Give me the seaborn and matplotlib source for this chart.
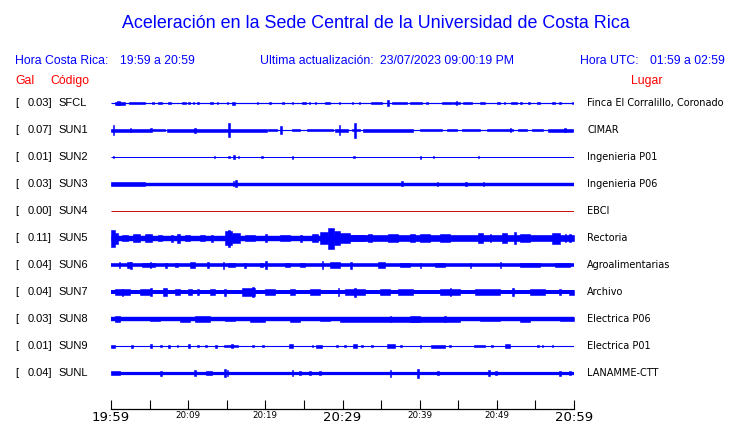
import matplotlib
matplotlib.use("Agg")
import matplotlib.pyplot as plt
import seaborn as sns

sns.set_style("white")
plt.rcParams['font.family'] = ['Liberation Sans', 'DejaVu Sans']

# ---------------- data ----------------
title = "Aceleración en la Sede Central de la Universidad de Costa Rica"
codes = ["SFCL", "SUN1", "SUN2", "SUN3", "SUN4", "SUN5", "SUN6", "SUN7", "SUN8", "SUN9", "SUNL"]
gal_values = ["0.03", "0.07", "0.01", "0.03", "0.00", "0.11", "0.04", "0.04", "0.03", "0.01", "0.04"]
places = ["Finca El Corralillo, Coronado", "CIMAR", "Ingenieria P01", "Ingenieria P06", "EBCI",
          "Rectoria", "Agroalimentarias", "Archivo", "Electrica P06", "Electrica P01", "LANAMME-CTT"]
# background (noise) half amplitude of each trace
base_amp = [0.6, 0.6, 0.5, 1.7, 0.5, 2.7, 1.8, 2.0, 2.2, 0.55, 1.6]
trace_colors = ["#0000ff"] * 4 + ["#cc1111"] + ["#0000ff"] * 6

tick_minutes = list(range(0, 61, 5))
tick_labels = ["19:59", "", "20:09", "", "20:19", "", "20:29", "", "20:39", "", "20:49", "", "20:59"]
big_labels = ["19:59", "20:29", "20:59"]

# bursts: (start minute, end minute, half amplitude)
bursts_SFCL = [(0.5, 1.8, 1.5), (0.8, 1.2, 2.3), (2.3, 4.4, 1.3), (5.3, 5.6, 1.2), (6.1, 6.6, 1.2),
               (7.4, 7.8, 1.1), (9.2, 9.7, 1.3), (10.0, 10.2, 1.1), (10.6, 10.8, 1.1), (11.2, 11.4, 1.1),
               (12.8, 13.2, 1.3), (13.7, 13.9, 1.1), (15.0, 15.2, 1.1), (15.7, 16.1, 1.5), (18.9, 19.1, 1.1),
               (20.5, 20.7, 1.0), (22.2, 22.4, 1.0), (23.4, 23.6, 1.0), (24.7, 25.3, 1.4), (25.6, 25.8, 1.1),
               (26.4, 26.6, 1.0), (27.7, 28.4, 1.2), (29.5, 29.7, 1.2), (31.2, 31.4, 1.1), (32.1, 32.3, 1.0),
               (33.7, 35.1, 1.2), (35.8, 36.0, 3.0), (36.4, 38.4, 1.3), (38.7, 40.3, 1.3), (40.8, 41.1, 1.2),
               (42.9, 44.2, 1.2), (44.3, 45.2, 1.3), (44.7, 44.9, 2.0), (45.6, 46.8, 1.2), (47.8, 48.5, 1.2),
               (50.0, 50.4, 1.2), (50.9, 51.1, 1.0), (51.8, 52.6, 1.3), (53.0, 53.2, 1.0), (54.1, 54.3, 1.0),
               (55.2, 55.6, 1.2), (57.1, 57.5, 1.2), (58.1, 58.3, 1.0), (59.7, 59.9, 1.0)]
bursts_SUN1 = [(0.0, 5.1, 1.5), (5.3, 7.0, 1.3), (7.3, 20.2, 1.5), (20.3, 21.5, 1.1), (23.5, 24.5, 1.3),
               (25.4, 28.8, 1.4), (29.0, 30.7, 1.5), (31.2, 32.3, 1.3), (32.7, 39.1, 1.5), (40.0, 42.9, 1.4),
               (43.5, 44.8, 1.3), (45.5, 47.8, 1.4), (48.7, 52.1, 1.4), (52.7, 53.9, 1.3), (54.6, 56.0, 1.4),
               (56.6, 59.9, 1.5), (0.2, 0.4, 5.0), (2.4, 2.6, 2.2), (5.1, 5.3, 2.0), (10.8, 11.0, 2.5),
               (15.2, 15.4, 7.0), (21.9, 22.1, 4.0), (29.5, 29.7, 5.0), (31.5, 31.7, 7.5), (51.7, 51.9, 2.0),
               (58.7, 58.9, 2.0)]
bursts_SUN2 = [(0.2, 0.4, 1.0), (13.3, 13.5, 1.0), (15.2, 15.4, 1.2), (15.8, 16.1, 2.0), (16.4, 16.6, 1.0),
               (19.5, 19.7, 1.0), (23.4, 23.6, 1.5), (31.4, 31.6, 1.2), (40.0, 40.2, 1.5), (41.7, 41.9, 1.0),
               (47.5, 47.7, 1.0)]
bursts_SUN3 = [(0.0, 4.4, 1.9), (15.8, 16.0, 2.5), (16.1, 16.3, 3.5), (37.6, 37.8, 2.5), (42.2, 42.4, 2.2),
               (45.9, 46.1, 2.1), (48.2, 48.4, 2.3)]
bursts_SUN4 = []
bursts_SUN5 = [(29.7, 60.0, 3.2), (0.0, 0.5, 8.5), (0.5, 0.9, 5.5), (1.4, 2.2, 3.4), (2.9, 3.8, 4.0),
               (4.4, 5.3, 3.8), (6.1, 6.6, 3.4), (7.8, 8.0, 3.5), (8.6, 8.9, 4.5), (9.6, 10.2, 3.2),
               (11.5, 12.2, 3.3), (13.0, 13.2, 3.5), (14.8, 15.7, 7.0), (15.1, 15.4, 8.5), (15.7, 16.7, 4.8),
               (17.4, 18.7, 3.4), (20.0, 20.2, 3.6), (21.9, 23.2, 3.3), (24.5, 24.7, 3.5), (26.0, 26.8, 3.7),
               (27.1, 28.1, 6.0), (28.1, 28.9, 10.5), (28.9, 29.7, 7.0), (29.7, 31.0, 4.8), (31.0, 32.9, 3.3),
               (33.3, 33.8, 4.0), (35.9, 37.2, 3.8), (38.7, 39.4, 3.7), (40.0, 41.3, 4.0), (42.6, 43.9, 3.6),
               (47.6, 48.2, 5.2), (49.1, 49.3, 4.0), (50.7, 51.3, 5.0), (52.2, 52.5, 6.0), (53.0, 54.3, 3.6),
               (57.2, 58.2, 5.5), (58.8, 59.0, 3.8), (59.4, 59.6, 4.2)]
bursts_SUN6 = [(1.0, 1.2, 3.0), (2.1, 2.6, 2.6), (2.5, 2.7, 3.5), (4.0, 5.7, 2.4), (5.0, 5.2, 3.0),
               (7.0, 7.2, 2.5), (8.3, 8.7, 2.3), (10.2, 10.9, 2.6), (12.5, 12.7, 3.0), (14.5, 14.7, 3.5),
               (15.2, 16.1, 2.4), (17.3, 17.5, 2.5), (19.3, 19.7, 2.4), (20.0, 20.2, 4.0), (22.5, 23.2, 2.3),
               (24.5, 25.1, 2.3), (27.3, 27.5, 4.0), (28.4, 29.7, 2.6), (31.0, 31.2, 3.5), (34.6, 35.5, 2.6),
               (37.5, 38.8, 2.4), (40.0, 40.2, 2.5), (42.0, 43.3, 2.4), (46.5, 46.7, 2.5), (50.4, 50.6, 3.0),
               (53.0, 55.6, 2.2), (57.5, 59.5, 2.1)]
bursts_SUN7 = [(0.5, 2.5, 2.8), (1.4, 1.6, 3.5), (3.8, 5.1, 2.8), (5.1, 5.3, 4.0), (6.7, 7.3, 4.2),
               (8.3, 8.9, 2.8), (10.0, 10.5, 2.7), (11.2, 11.4, 3.2), (12.8, 13.5, 2.7), (14.7, 14.9, 3.5),
               (17.0, 18.7, 3.6), (18.3, 18.5, 5.0), (20.0, 21.3, 2.8), (23.2, 23.8, 2.7), (25.8, 27.1, 2.8),
               (29.4, 29.6, 4.0), (30.3, 32.9, 3.4), (31.5, 31.7, 4.5), (34.9, 36.2, 3.1), (37.2, 39.2, 3.1),
               (42.6, 45.2, 3.3), (43.9, 44.1, 4.3), (47.2, 50.4, 2.8), (52.0, 52.2, 4.0), (54.3, 56.2, 2.8),
               (58.1, 58.3, 3.3), (59.4, 60.0, 2.5)]
bursts_SUN8 = [(0.5, 1.2, 2.6), (5.1, 6.4, 2.4), (8.9, 10.2, 2.5), (10.9, 12.8, 2.6), (14.8, 16.1, 2.4),
               (18.0, 20.0, 2.5), (23.2, 24.5, 2.5), (27.1, 28.4, 2.4), (29.7, 45.2, 2.5), (36.1, 36.3, 3.2),
               (38.7, 40.0, 2.8), (43.2, 43.4, 3.0), (47.8, 50.4, 2.4), (53.0, 54.3, 2.5), (58.2, 60.0, 2.4)]
bursts_SUN9 = [(0.0, 0.5, 1.5), (2.6, 2.8, 1.5), (5.0, 5.3, 1.8), (6.4, 6.6, 1.3), (7.4, 7.6, 1.5),
               (8.5, 8.7, 1.2), (10.0, 10.2, 1.6), (11.2, 11.4, 1.3), (12.2, 12.4, 1.3), (13.5, 13.7, 1.5),
               (14.6, 16.5, 1.4), (15.6, 15.8, 2.0), (18.3, 18.5, 1.3), (19.6, 19.8, 1.2), (23.1, 23.6, 2.0),
               (26.0, 26.2, 1.3), (26.6, 27.3, 1.5), (29.2, 29.4, 1.2), (30.2, 30.4, 1.3), (31.4, 31.9, 1.6),
               (32.4, 32.6, 1.2), (33.7, 33.9, 1.3), (35.8, 36.8, 1.6), (37.5, 37.7, 1.2), (40.0, 40.2, 1.5),
               (41.5, 43.3, 1.5), (43.8, 44.0, 1.2), (47.0, 48.5, 1.4), (49.3, 49.5, 1.2), (51.0, 51.7, 2.0),
               (55.2, 55.4, 1.2), (55.8, 56.0, 1.2), (57.1, 57.3, 1.2)]
bursts_SUNL = [(0.0, 1.2, 2.0), (6.4, 6.6, 2.5), (10.8, 11.0, 3.0), (12.3, 13.1, 2.3), (14.7, 14.9, 4.0),
               (15.0, 15.2, 3.0), (23.4, 23.6, 3.0), (24.4, 24.6, 2.0), (25.7, 25.9, 2.0), (27.0, 27.2, 2.0),
               (36.1, 36.3, 3.5), (39.7, 39.9, 4.5), (42.3, 42.5, 2.2), (48.9, 49.1, 3.0), (49.8, 50.0, 2.3),
               (58.1, 58.3, 2.5), (59.4, 59.6, 2.0)]
bursts = [bursts_SFCL, bursts_SUN1, bursts_SUN2, bursts_SUN3, bursts_SUN4, bursts_SUN5,
          bursts_SUN6, bursts_SUN7, bursts_SUN8, bursts_SUN9, bursts_SUNL]

# ---------------- layout ----------------
W, H = 740, 423
BLUE = "#0000ff"
RED = "#ff0000"
fig = plt.figure(figsize=(W / 100, H / 100), dpi=100)


def fx(px):
    return px / W


def fy(py):
    return 1 - py / H


fig.text(fx(376), fy(23), title, ha="center", va="center", fontsize=12.9, color=BLUE)
hdr = dict(va="center", fontsize=8.8, color=BLUE)
fig.text(fx(15), fy(61), "Hora Costa Rica:", ha="left", **hdr)
fig.text(fx(120.5), fy(61), "19:59 a 20:59", ha="left", **hdr)
fig.text(fx(260), fy(61), "Ultima actualización:", ha="left", **hdr)
fig.text(fx(380), fy(61), "23/07/2023 09:00:19 PM", ha="left", **hdr)
fig.text(fx(580.5), fy(61), "Hora UTC:", ha="left", **hdr)
fig.text(fx(650.5), fy(61), "01:59 a 02:59", ha="left", **hdr)
red = dict(va="center", fontsize=8.8, color=RED)
fig.text(fx(15), fy(81), "Gal", ha="left", **red)
fig.text(fx(50.5), fy(81), "Código", ha="left", **red)
fig.text(fx(631), fy(81), "Lugar", ha="left", **red)

ax = fig.add_axes([fx(111), fy(409), 463 / W, (409 - 88) / H])
ax.set_xlim(0, 60)
ax.set_ylim(409, 88)

for i, code in enumerate(codes):
    yc = 103 + 27 * i
    c = trace_colors[i]
    b = base_amp[i]
    sns.lineplot(x=[0, 60], y=[yc, yc], ax=ax, color=c, linewidth=2 * b * 0.72,
                 legend=False, solid_capstyle="butt")
    for (t0, t1, a) in bursts[i]:
        ax.fill_between([t0, t1], [yc - a, yc - a], [yc + a, yc + a], color=c,
                        linewidth=0.4, edgecolor=c)
    fy_row = fy(yc)
    fig.text(fx(15), fy_row, "[", ha="left", va="center", fontsize=8, color="black")
    fig.text(fx(27.5), fy_row, gal_values[i] + "]", ha="left", va="center", fontsize=8, color="black")
    fig.text(fx(58.5), fy_row, code, ha="left", va="center", fontsize=8, color="black")
    fig.text(fx(587), fy_row, places[i], ha="left", va="center", fontsize=7,
             color="black", family="DejaVu Sans")

for s in ["top", "left", "right"]:
    ax.spines[s].set_visible(False)
ax.spines["bottom"].set_color("black")
ax.spines["bottom"].set_linewidth(0.9)
ax.set_yticks([])
ax.set_xticks(tick_minutes)
ax.set_xticklabels(tick_labels)
ax.tick_params(axis="x", which="major", bottom=True, direction="in", length=6.5, width=0.8,
               colors="black", pad=1.5)
for lbl, txt in zip(ax.get_xticklabels(), tick_labels):
    lbl.set_family("DejaVu Sans")
    lbl.set_fontsize(9.5 if txt in big_labels else 6.3)
ax.set_xlabel("")
ax.set_ylabel("")
ax.patch.set_alpha(0)

fig.savefig("out.png", dpi=100)
